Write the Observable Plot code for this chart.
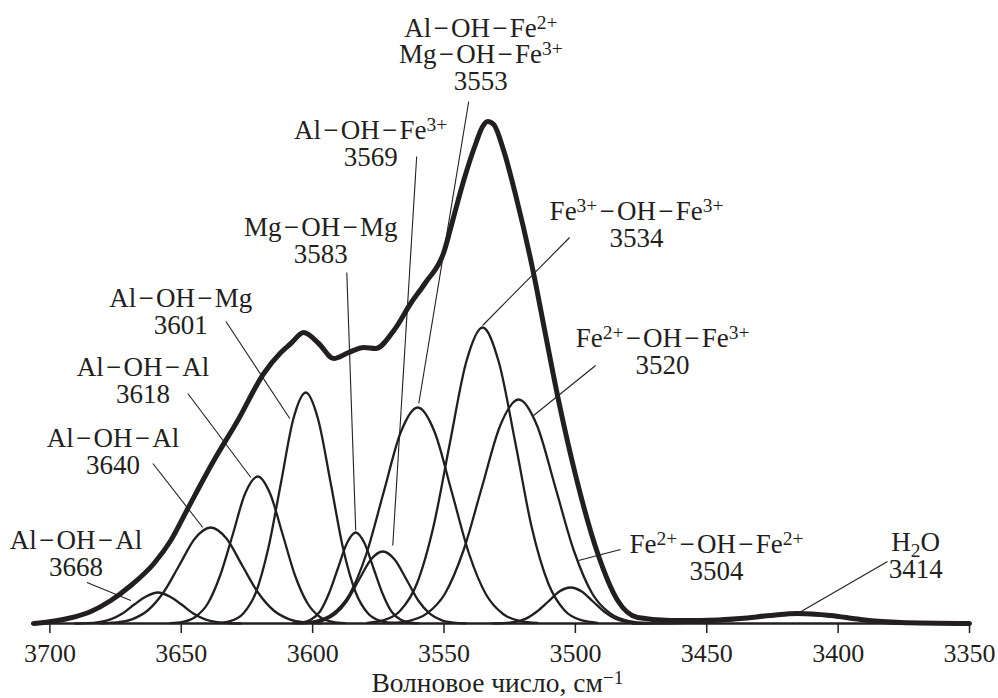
<!DOCTYPE html>
<html><head><meta charset="utf-8">
<script src="https://cdn.jsdelivr.net/npm/d3@7"></script>
<script src="https://cdn.jsdelivr.net/npm/@observablehq/plot@0.6"></script>
<style>
html,body{margin:0;padding:0;background:#fff;}
#chart{width:998px;height:698px;overflow:hidden;}
#chart svg, #chart svg text, #chart svg tspan{font-family:"Liberation Serif","Times New Roman",Times,serif !important;}
</style></head><body><div id="chart"></div>
<script>
// ---------- data (wavenumber, intensity in arbitrary units) ----------
const xTicks = [3700, 3650, 3600, 3550, 3500, 3450, 3400, 3350];
const axisTitle = "Волновое число, см^{−1}";

// measured spectrum (thick envelope)
const envelope = [
  [3706.1,0],[3699.6,2],[3693.2,5],[3684.4,12],[3676.8,23],[3669.2,38],[3660.4,60],
  [3654.0,83],[3647.5,115],[3637.6,163],[3628.5,203],[3618.6,250],[3612.1,271],
  [3608.3,280],[3603.4,291],[3597.7,280],[3592.0,265],[3586.3,271],[3580.5,276],
  [3576.0,275],[3569.1,293],[3562.7,320],[3557.0,341],[3550.1,371],[3546.7,403],
  [3542.5,443],[3537.9,480],[3535.3,497],[3533.4,502],[3531.1,499],[3527.3,473],
  [3522.7,428],[3515.9,350],[3511.3,288],[3506.4,223],[3499.9,148],[3491.5,70],
  [3483.9,23],[3476.3,6],[3463.8,3],[3452.3,3],[3437.1,5],[3425.7,8],[3415.4,10],
  [3402.9,8],[3391.5,4],[3376.3,1],[3350,0]
];

// fitted component bands
const band3668 = [[3690.4,0],[3685.9,0.3],[3681.4,1.4],[3676.9,4.2],[3672.4,10],[3667.9,19],[3663.4,27],[3658.9,31],[3654.4,27],[3649.9,19],[3645.4,10],[3640.9,4.2],[3636.4,1.4],[3631.9,0.3],[3627.4,0]];
const band3640 = [[3680.8,0.2],[3674.8,1.1],[3668.8,4.2],[3662.8,13],[3656.8,31],[3650.8,58],[3644.8,85],[3638.8,96],[3632.8,85],[3626.8,58],[3620.8,31],[3614.8,13],[3608.8,4.2],[3602.8,1.1],[3596.8,0.2]];
const band3618 = [[3654.2,0.3],[3649.4,1.6],[3644.7,6.5],[3639.9,20],[3635.2,48],[3630.4,89],[3625.7,130],[3620.9,147],[3616.2,130],[3611.4,89],[3606.7,48],[3601.9,20],[3597.2,6.5],[3592.4,1.6],[3587.7,0.3]];
const band3601 = [[3635.9,0.5],[3631.1,2.6],[3626.4,10],[3621.6,31],[3616.9,75],[3612.1,140],[3607.4,204],[3602.6,231],[3597.9,204],[3593.1,140],[3588.4,75],[3583.6,31],[3578.9,10],[3574.1,2.6],[3569.4,0.5]];
const band3583 = [[3607.4,0.2],[3604.0,1.0],[3600.6,4.0],[3597.2,12],[3593.8,30],[3590.4,55],[3587.0,80],[3583.6,91],[3580.2,80],[3576.8,55],[3573.4,30],[3570.0,12],[3566.6,4.0],[3563.2,1.0],[3559.8,0.2]];
const band3569 = [[3604.8,0.1],[3600.3,0.8],[3595.8,3.2],[3591.3,9.7],[3586.8,23],[3582.3,44],[3577.8,64],[3573.3,72],[3568.8,64],[3564.3,44],[3559.8,23],[3555.3,9.7],[3550.8,3.2],[3546.3,0.8],[3541.8,0.1]];
const band3553 = [[3605.5,0.5],[3599.0,2.4],[3592.5,9.5],[3586.0,29],[3579.5,70],[3573.0,131],[3566.5,191],[3560.0,216],[3553.5,191],[3547.0,131],[3540.5,70],[3534.0,29],[3527.5,9.5],[3521.0,2.4],[3514.5,0.5]];
const band3534 = [[3579.1,0.7],[3572.8,3.3],[3566.6,13],[3560.3,40],[3554.1,96],[3547.8,180],[3541.6,261],[3535.3,296],[3529.1,261],[3522.8,180],[3516.6,96],[3510.3,40],[3504.1,13],[3497.8,3.3],[3491.6,0.7]];
const band3520 = [[3570.6,0.5],[3563.6,2.5],[3556.6,9.8],[3549.6,30],[3542.6,73],[3535.6,136],[3528.6,198],[3521.6,224],[3514.6,198],[3507.6,136],[3500.6,73],[3493.6,30],[3486.6,9.8],[3479.6,2.5],[3472.6,0.5]];
const band3504 = [[3531.6,0.1],[3527.3,0.4],[3523.1,1.6],[3518.8,4.9],[3514.6,12],[3510.3,22],[3506.1,32],[3501.8,36],[3497.6,32],[3493.3,22],[3489.1,12],[3484.8,4.9],[3480.6,1.6],[3476.3,0.4],[3472.1,0.1]];
const bandH2O = [[3478.4,0],[3469.4,0.1],[3460.4,0.4],[3451.4,1.3],[3442.4,2.9],[3433.4,5.5],[3424.4,7.9],[3415.4,9],[3406.4,7.9],[3397.4,5.5],[3388.4,2.9],[3379.4,1.3],[3370.4,0.4],[3361.4,0.1],[3352.4,0]];

// band assignments ("~" = bond dash)
const bandNames = ["Al~OH~Al","Al~OH~Al","Al~OH~Al","Al~OH~Mg","Mg~OH~Mg","Al~OH~Fe^{3+}",
  "Al~OH~Fe^{2+}\nMg~OH~Fe^{3+}","Fe^{3+}~OH~Fe^{3+}","Fe^{2+}~OH~Fe^{3+}","Fe^{2+}~OH~Fe^{2+}","H_{2}O"];
const bandNumbers = ["3668","3640","3618","3601","3583","3569","3553","3534","3520","3504","3414"];

// ---------- annotation layout: label anchor, leader start, leader end (data units) ----------
const labelLayout = [
  [3690.1, 48, 3685.9, 41, 3669.2, 23],
  [3676.0, 150, 3660.8, 160, 3641.8, 96],
  [3664.6, 221, 3647.5, 230, 3623.5, 146],
  [3650.2, 290, 3633.0, 302, 3608.7, 205],
  [3596.9, 361, 3587.0, 351, 3583.6, 93],
  [3577.9, 458, 3560.4, 467, 3569.5, 78],
  [3536.0, 534, 3540.6, 522, 3559.6, 220],
  [3476.7, 377, 3502.2, 386, 3535.3, 298],
  [3466.8, 250, 3492.3, 258, 3515.9, 208],
  [3446.3, 44, 3482.8, 74, 3498.8, 63],
  [3370.5, 46, 3381.2, 62, 3415.4, 10]
];

const ink = "#231f20";
const DASH = "\u200A\u2212\u200A";
const components = [band3668, band3640, band3618, band3601, band3583, band3569, band3553, band3534, band3520, band3504, bandH2O];
const compRows = components.flatMap((pts, i) => pts.map(([x, y]) => ({id: i, x, y})));
const envRows = envelope.map(([x, y]) => ({x, y}));
const labels = bandNumbers.map((num, i) => {
  const [x, y, x1, y1, x2, y2] = labelLayout[i];
  return {text: bandNames[i].replace(/~/g, DASH) + "\n" + num, x, y, x1, y1, x2, y2};
});

const chart = Plot.plot({
  width: 998, height: 698,
  marginLeft: 31, marginRight: 29, marginTop: 0, marginBottom: 75,
  x: {domain: [3707, 3350]},
  y: {domain: [0, 623], axis: null},
  style: {fontFamily: "'Liberation Serif', 'Times New Roman', serif", color: ink, background: "#fff", overflow: "visible"},
  marks: [
    Plot.axisX({ticks: xTicks, tickSize: 10, tickPadding: 10, fontSize: 26, strokeWidth: 1.5, tickFormat: "d", label: null}),
    Plot.ruleY([0], {stroke: ink, strokeWidth: 2.6}),
    Plot.line(compRows, {x: "x", y: "y", z: "id", curve: "monotone-x", stroke: ink, strokeWidth: 2.3, strokeLinejoin: "round"}),
    Plot.line(envRows, {x: "x", y: "y", curve: "monotone-x", stroke: ink, strokeWidth: 5, strokeLinejoin: "round", strokeLinecap: "round"}),
    Plot.link(labels, {x1: "x1", y1: "y1", x2: "x2", y2: "y2", stroke: ink, strokeWidth: 1.1}),
    Plot.text(labels, {x: "x", y: "y", text: "text", lineAnchor: "bottom", fontSize: 27, lineHeight: 0.98, fill: ink}),
    Plot.text([axisTitle], {frameAnchor: "bottom", dy: 68, dx: -3, lineAnchor: "bottom", fontSize: 27.5, fill: ink})
  ]
});

// rich text: ^{...} superscript, _{...} subscript
function richText(root) {
  const NS = "http://www.w3.org/2000/svg";
  root.querySelectorAll("text, tspan").forEach(el => {
    if (el.childNodes.length !== 1 || el.firstChild.nodeType !== 3) return;
    const s = el.textContent;
    if (!/[\^_]\{/.test(s)) return;
    el.textContent = "";
    const re = /([\^_])\{([^}]*)\}/g;
    let last = 0, m;
    while ((m = re.exec(s))) {
      if (m.index > last) el.appendChild(document.createTextNode(s.slice(last, m.index)));
      const t = document.createElementNS(NS, "tspan");
      t.setAttribute("font-size", "19.5px");
      t.setAttribute("baseline-shift", m[1] === "^" ? "8.5px" : "-6px");
      t.textContent = m[2];
      el.appendChild(t);
      last = re.lastIndex;
    }
    if (last < s.length) el.appendChild(document.createTextNode(s.slice(last)));
  });
}
richText(chart);
document.getElementById("chart").appendChild(chart);
</script></body></html>
